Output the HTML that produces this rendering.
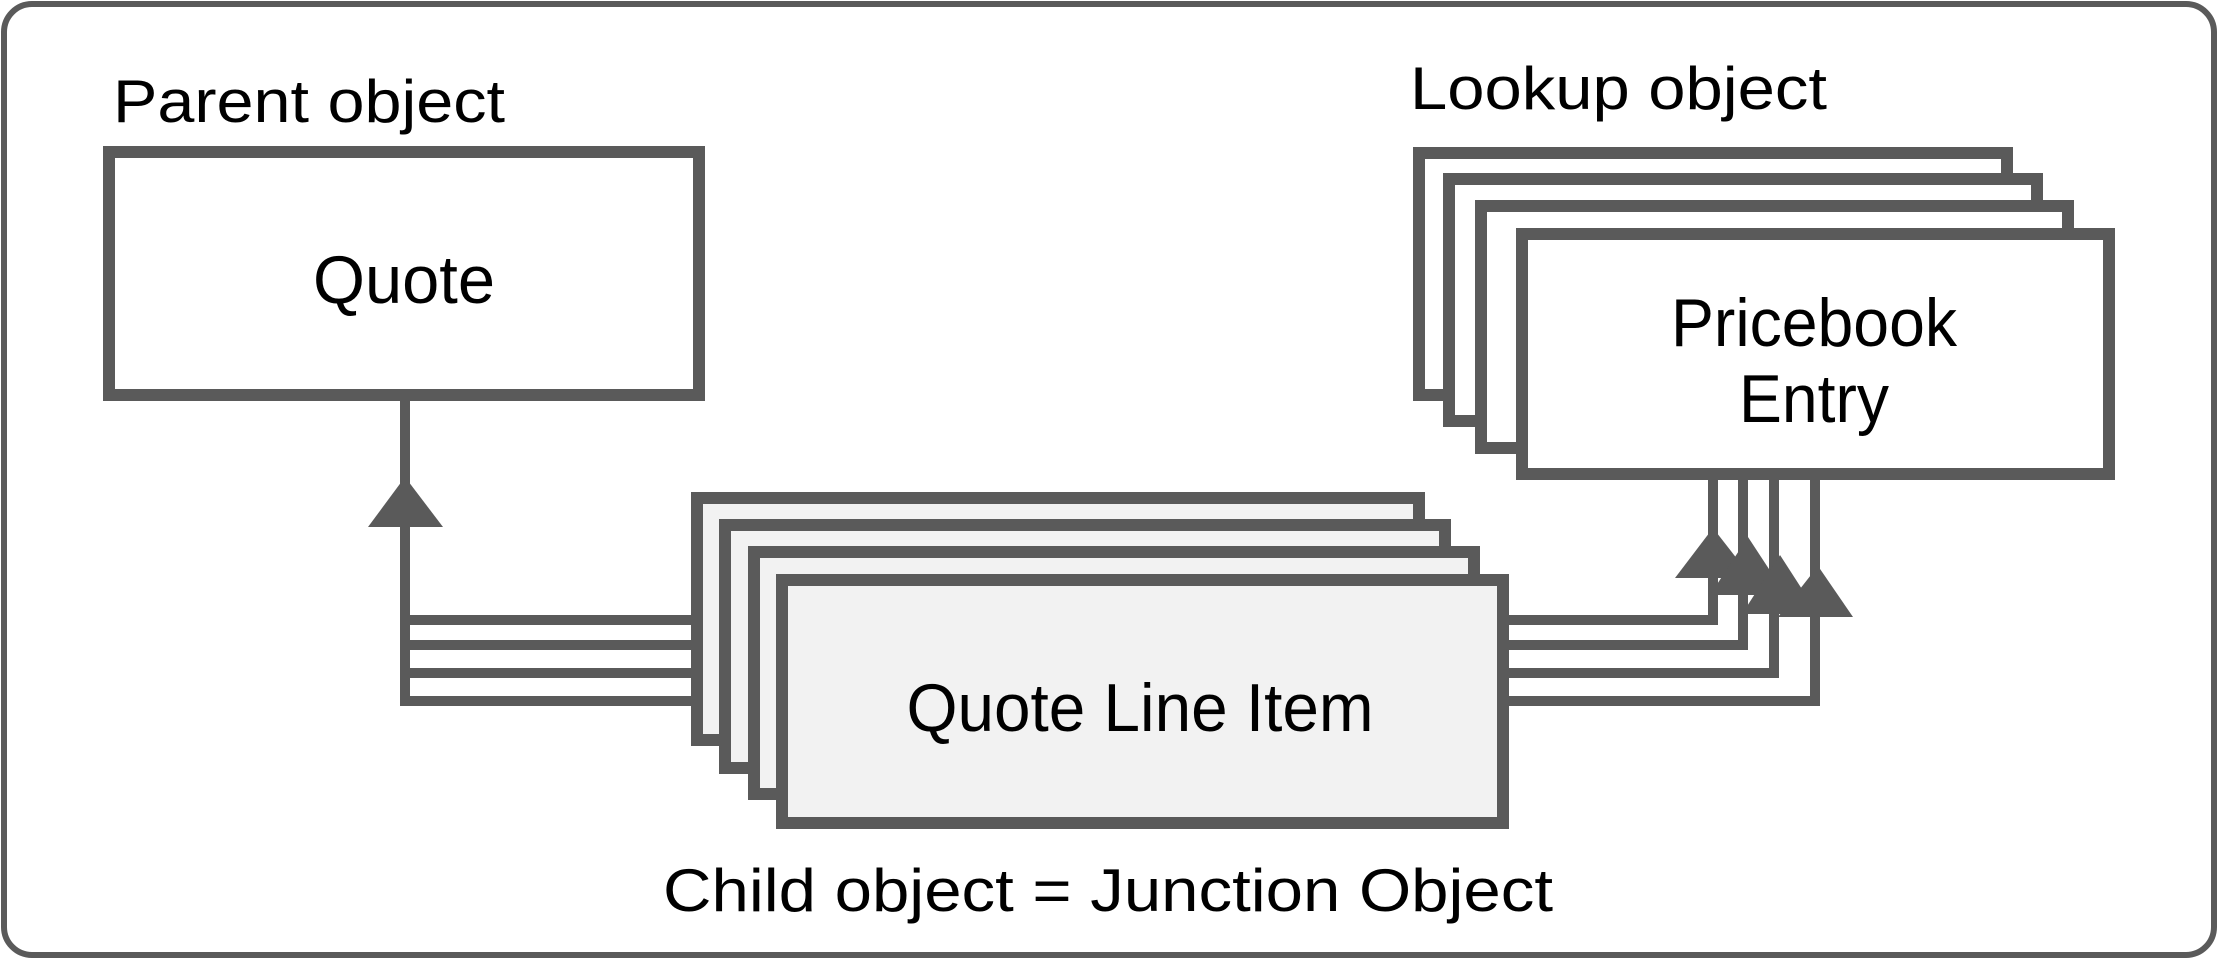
<!DOCTYPE html>
<html><head><meta charset="utf-8"><style>
html,body{margin:0;padding:0;background:#fff}
svg{display:block}
text{font-family:"Liberation Sans","DejaVu Sans",sans-serif;fill:#000}
</style></head><body>
<svg width="2218" height="959" viewBox="0 0 2218 959" xmlns="http://www.w3.org/2000/svg">
<rect x="4" y="4" width="2210" height="951" rx="28" fill="#fff" stroke="#5a5a5a" stroke-width="6"/>
<text x="113" y="122" font-size="60" textLength="392" lengthAdjust="spacingAndGlyphs">Parent object</text>
<text x="1410" y="109" font-size="60" textLength="417" lengthAdjust="spacingAndGlyphs">Lookup object</text>
<text x="663" y="911" font-size="60" textLength="890" lengthAdjust="spacingAndGlyphs">Child object = Junction Object</text>

<rect x="109" y="152" width="590" height="243" fill="#fff" stroke="#5a5a5a" stroke-width="12"/>
<text x="404" y="303" font-size="68" text-anchor="middle" textLength="182" lengthAdjust="spacingAndGlyphs">Quote</text>

<g stroke="#5a5a5a" stroke-width="10" fill="none">
<path d="M405 395 V701 H800"/>
<path d="M405 620 H800"/><path d="M405 645 H800"/><path d="M405 673 H800"/>
<path d="M1500 620 H1713 V475"/>
<path d="M1500 645 H1743 V475"/>
<path d="M1500 673 H1774 V475"/>
<path d="M1500 701 H1815 V475"/>
</g>
<polygon points="405,477 368,527 443,527" fill="#5a5a5a"/>

<g stroke="#5a5a5a" stroke-width="12" fill="#f2f2f2">
<rect x="697" y="498" width="722" height="242"/>
<rect x="725" y="525" width="720" height="243"/>
<rect x="754" y="552" width="720" height="242"/>
<rect x="782" y="580" width="721" height="243"/>
</g>
<text x="1140" y="731" font-size="68" text-anchor="middle" textLength="467" lengthAdjust="spacingAndGlyphs">Quote Line Item</text>

<g stroke="#5a5a5a" stroke-width="12" fill="#fff">
<rect x="1419" y="153" width="588" height="242"/>
<rect x="1449" y="179" width="588" height="242"/>
<rect x="1481" y="206" width="587" height="242"/>
<rect x="1522" y="234" width="587" height="240"/>
</g>
<text x="1814" y="346" font-size="68" text-anchor="middle" textLength="286" lengthAdjust="spacingAndGlyphs">Pricebook</text>
<text x="1814" y="422" font-size="68" text-anchor="middle" textLength="150" lengthAdjust="spacingAndGlyphs">Entry</text>

<g fill="#5a5a5a">
<polygon points="1713,528 1675,578 1752,578"/>
<polygon points="1748,537 1710,595 1786,595"/>
<polygon points="1780,555 1742,614 1818,614"/>
<polygon points="1818,566 1778,617 1853,617"/>
</g>
</svg>
</body></html>
